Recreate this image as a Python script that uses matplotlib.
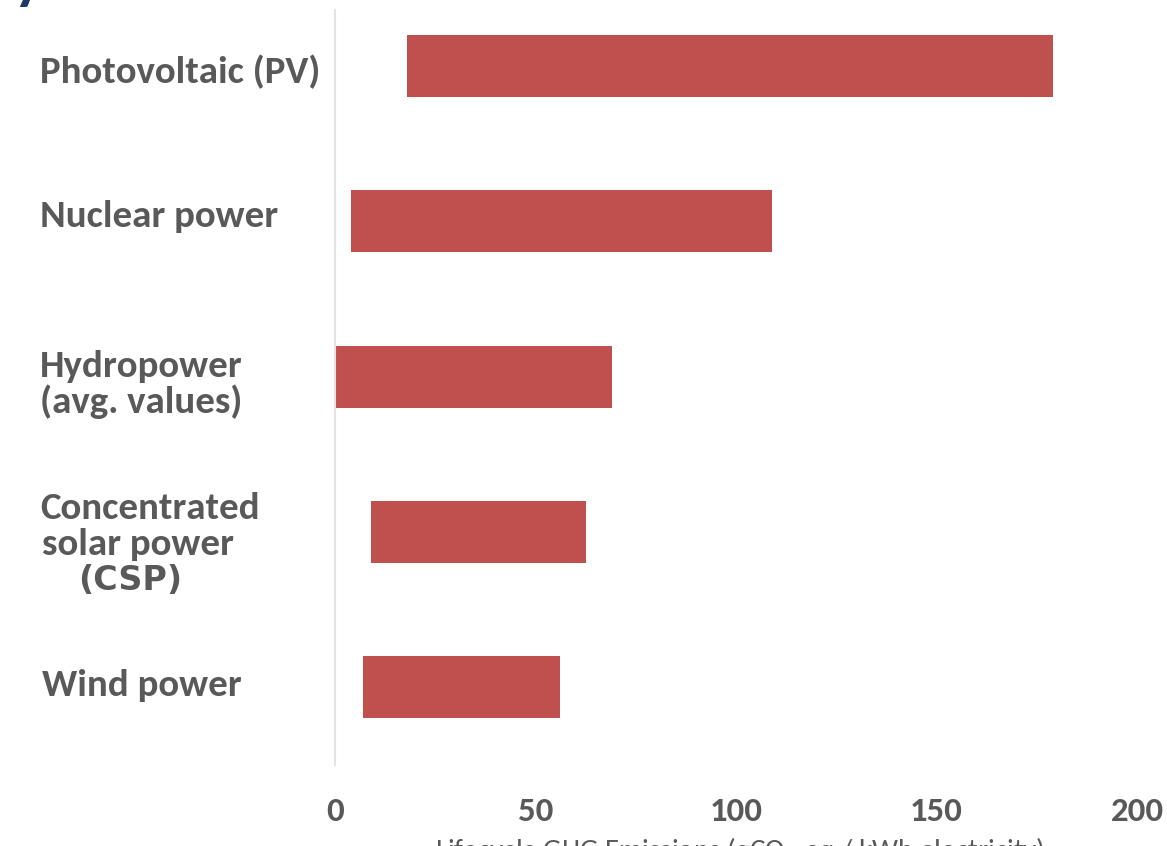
import matplotlib
matplotlib.use("Agg")
import matplotlib.pyplot as plt
from matplotlib.transforms import blended_transform_factory

# Lifecycle greenhouse-gas emission ranges per technology (gCO2-eq / kWh)
technologies = ["Photovoltaic (PV)", "Nuclear power", "Hydropower\n(avg. values)",
                "Concentrated solar power (CSP)", "Wind power"]
range_low = [18, 4, 0, 9, 7]
range_high = [179, 109, 69, 62.5, 56]
x_ticks = [0, 50, 100, 150, 200]
x_label = "Lifecycle GHG Emissions (gCO$_2$-eq / kWh electricity)"

BAR = "#C0504D"
TEXT = "#595959"
FONT = ["Carlito", "Open Sans", "DejaVu Sans"]

plt.rcParams["mathtext.fontset"] = "custom"
plt.rcParams["mathtext.rm"] = "Carlito"
plt.rcParams["mathtext.default"] = "rm"

fig = plt.figure(figsize=(11.67, 8.46), dpi=100)
ax = fig.add_axes([0.2871, 0.0957, 0.6872, 0.8924])

n = len(technologies)
positions = list(range(n - 1, -1, -1))
widths = [h - l for l, h in zip(range_low, range_high)]
ax.barh(positions, widths, left=range_low, height=0.4, color=BAR)

ax.set_xlim(0, 200)
ax.set_ylim(-0.5, 4.36)
ax.set_yticks([])
ax.set_xticks(x_ticks)
ax.set_xticklabels([str(t) for t in x_ticks], family=FONT, fontweight="bold",
                   fontsize=25, color=TEXT)
ax.tick_params(axis="x", length=0, pad=23)
for side in ["top", "right", "bottom"]:
    ax.spines[side].set_visible(False)
ax.spines["left"].set_color("#E3E3E3")
ax.spines["left"].set_linewidth(1.5)

# Category labels, left-aligned at the figure's left margin
trans = blended_transform_factory(fig.transFigure, ax.transData)
lx = 40 / 1167
label_style = dict(family=FONT, fontweight="bold", color=TEXT, fontsize=28,
                   ha="left", va="center", transform=trans)
ax.text(lx, positions[0] - 0.04, technologies[0], **label_style)
ax.text(lx, positions[1] + 0.03, technologies[1], **label_style)
ax.text(lx, positions[2] - 0.05, technologies[2], linespacing=1.05, **label_style)
ax.text(lx, positions[3] + 0.15, "Concentrated", **label_style)
ax.text(lx + 2 / 1167, positions[3] - 0.08, "solar power", **label_style)
ax.text(78 / 1167, positions[3] - 0.31, "(CSP)", family=["DejaVu Sans"],
        fontweight="bold", color=TEXT, fontsize=24, ha="left", va="center",
        transform=trans)
ax.text(lx + 2 / 1167, positions[4] + 0.01, technologies[4], **label_style)

# Axis title sits low, partly beyond the lower edge
fig.text(740 / 1167, 11 / 846, x_label, family=FONT, fontsize=21, color=TEXT,
         ha="center", va="top")

# Tail of the heading above the chart
fig.text(14 / 1167, 849 / 846, "y", family=FONT, fontweight="bold", fontsize=44,
         color="#1F3864", ha="left", va="baseline")

fig.savefig("out.png", dpi=100)
